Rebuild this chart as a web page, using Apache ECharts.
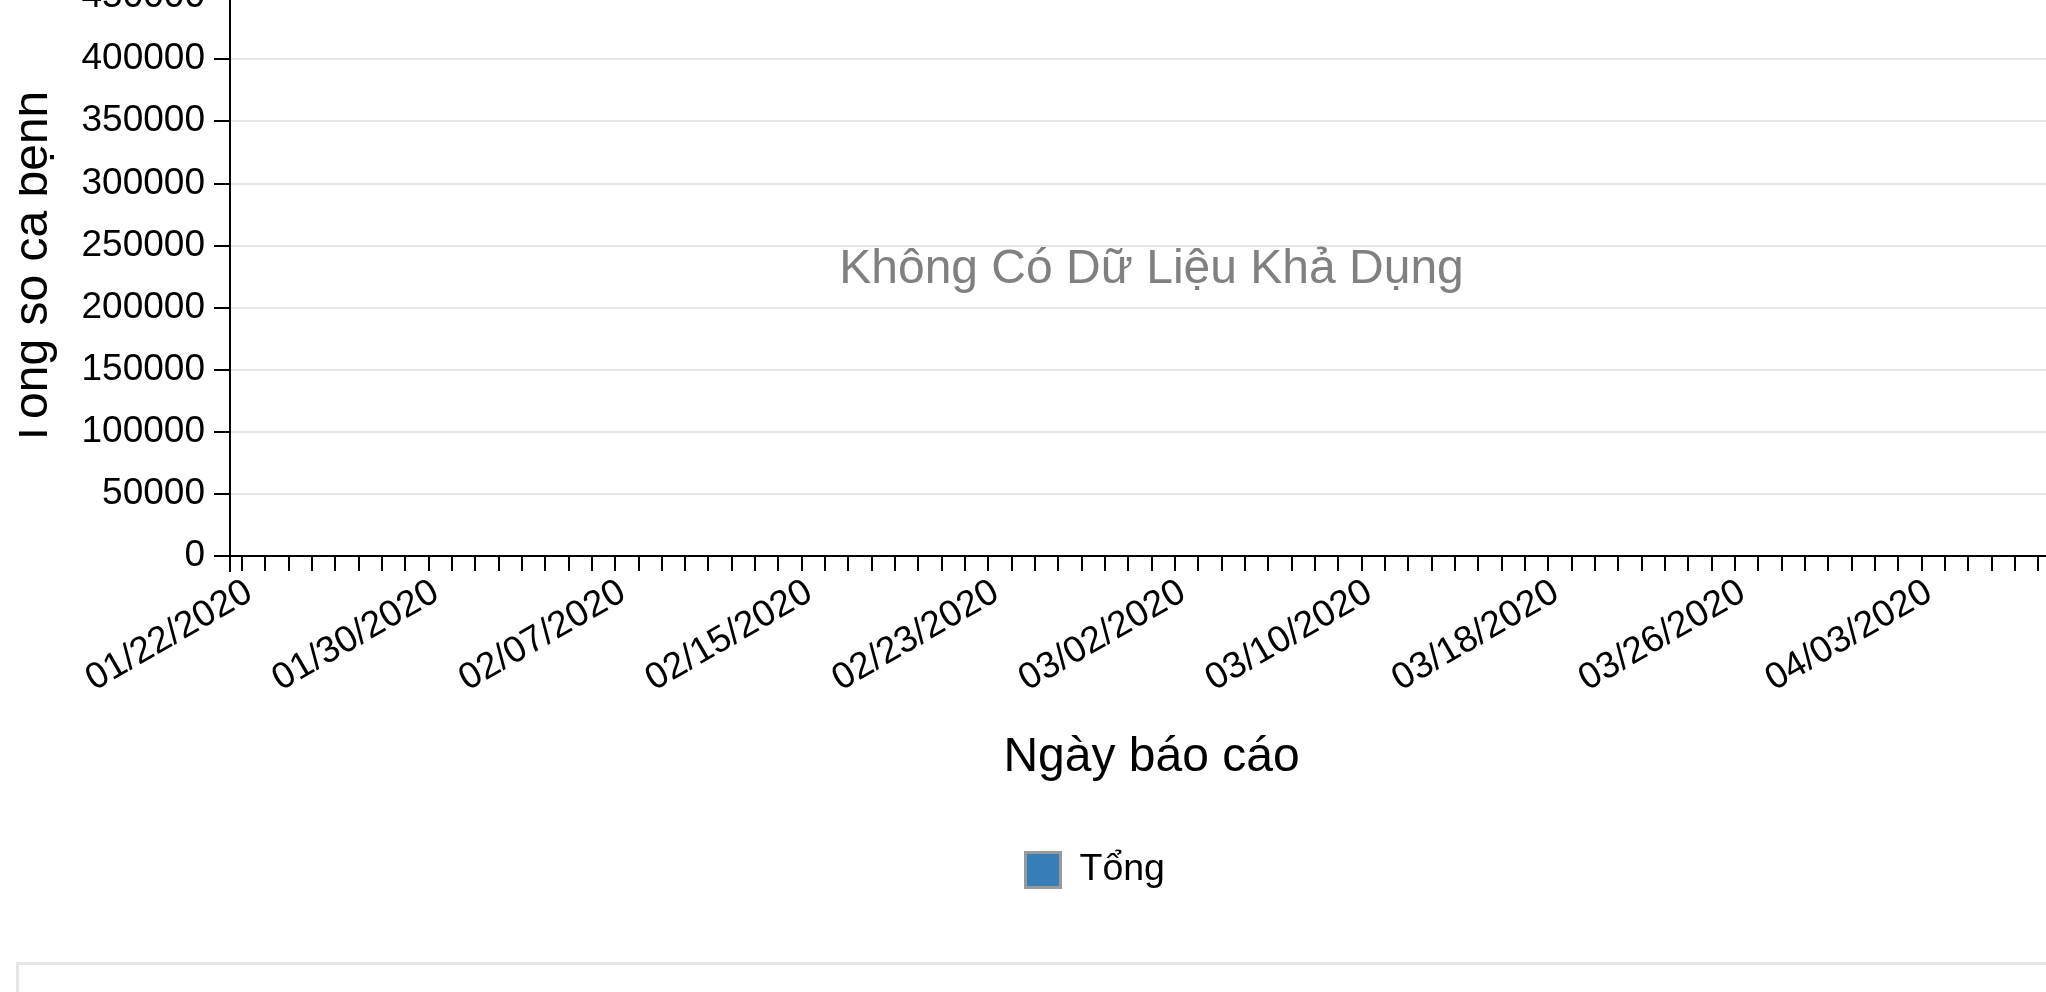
<!DOCTYPE html>
<html><head><meta charset="utf-8">
<script src="https://cdn.jsdelivr.net/npm/echarts@6/dist/echarts.min.js"></script>
<style>
html,body{margin:0;padding:0;background:#fff;width:2046px;height:992px;overflow:hidden;}
#clip{position:absolute;left:19px;top:0;width:2027px;height:992px;overflow:hidden;}
#chart{position:absolute;left:-19px;top:0;width:2046px;height:992px;}
#panel{position:absolute;left:16px;top:962px;width:2100px;height:100px;border:3px solid #e5e5e5;box-sizing:border-box;background:#fff;}
</style></head><body>
<div id="clip"><div id="chart"></div></div>
<div id="panel"></div>
<script>
// Category axis: report dates
const reportDates = [
  '01/22/2020','01/23/2020','01/24/2020','01/25/2020','01/26/2020','01/27/2020','01/28/2020','01/29/2020','01/30/2020','01/31/2020',
  '02/01/2020','02/02/2020','02/03/2020','02/04/2020','02/05/2020','02/06/2020','02/07/2020','02/08/2020','02/09/2020','02/10/2020',
  '02/11/2020','02/12/2020','02/13/2020','02/14/2020','02/15/2020','02/16/2020','02/17/2020','02/18/2020','02/19/2020','02/20/2020',
  '02/21/2020','02/22/2020','02/23/2020','02/24/2020','02/25/2020','02/26/2020','02/27/2020','02/28/2020','02/29/2020',
  '03/01/2020','03/02/2020','03/03/2020','03/04/2020','03/05/2020','03/06/2020','03/07/2020','03/08/2020','03/09/2020','03/10/2020',
  '03/11/2020','03/12/2020','03/13/2020','03/14/2020','03/15/2020','03/16/2020','03/17/2020','03/18/2020','03/19/2020','03/20/2020',
  '03/21/2020','03/22/2020','03/23/2020','03/24/2020','03/25/2020','03/26/2020','03/27/2020','03/28/2020','03/29/2020','03/30/2020',
  '03/31/2020','04/01/2020','04/02/2020','04/03/2020','04/04/2020','04/05/2020','04/06/2020','04/07/2020','04/08/2020','04/09/2020'
];
// Series values: no data available
const totalCases = [];
// Value axis ticks
const yMin = 0;
const yMax = 450000;
const yStep = 50000;

const seriesName = 'Tổng';
const xTitle = 'Ngày báo cáo';
const yTitle = 'Tổng số ca bệnh';
const noDataText = 'Không Có Dữ Liệu Khả Dụng';

const FONT = '"Liberation Sans", Arial, Helvetica, sans-serif';
const GRID = {left: 230, top: -3, width: 1843, height: 559};

const chart = echarts.init(document.getElementById('chart'), null, {renderer: 'canvas'});
chart.setOption({
  animation: false,
  backgroundColor: '#fff',
  textStyle: {fontFamily: FONT},
  grid: {left: GRID.left, top: GRID.top, width: GRID.width, height: GRID.height, containLabel: false, outerBoundsMode: 'none'},
  legend: {
    data: [{name: seriesName, icon: 'rect'}],
    left: 1024, top: 851, padding: 0,
    itemWidth: 35, itemHeight: 35,
    itemStyle: {borderColor: '#999', borderWidth: 3},
    textStyle: {fontSize: 37.5, color: '#000', fontFamily: FONT, padding: [0, 0, 0, 14]}
  },
  xAxis: {
    type: 'category', data: reportDates, boundaryGap: true,
    name: xTitle, nameLocation: 'middle', nameGap: 178, nameMoveOverlap: false,
    nameTextStyle: {fontSize: 48, color: '#000', fontFamily: FONT},
    axisLine: {show: true, lineStyle: {color: '#000', width: 2}},
    axisTick: {show: true, alignWithLabel: true, interval: 0, length: 15, lineStyle: {color: '#000', width: 2}},
    axisLabel: {interval: 7, rotate: 30, fontSize: 37, color: '#000', fontFamily: FONT, margin: 38, padding: [0, -9, 0, 0]},
    splitLine: {show: false}
  },
  yAxis: {
    type: 'value', min: yMin, max: yMax, interval: yStep,
    name: yTitle, nameLocation: 'middle', nameGap: 172, nameMoveOverlap: false,
    nameTextStyle: {fontSize: 48, color: '#000', fontFamily: FONT, padding: [0, 0, 0, 14]},
    axisLine: {show: true, lineStyle: {color: '#000', width: 2}},
    axisTick: {show: true, length: 16, lineStyle: {color: '#000', width: 2}},
    axisLabel: {fontSize: 37, color: '#000', fontFamily: FONT, margin: 25, formatter: function (v) { return String(v); }},
    splitLine: {show: true, lineStyle: {color: '#e6e6e6', width: 2}}
  },
  series: [{name: seriesName, type: 'bar', data: totalCases, itemStyle: {color: '#377eb8'}}],
  graphic: [
    {type: 'text', x: GRID.left + GRID.width / 2, y: 270, z: 100,
     style: {text: noDataText, fontSize: 48, fontFamily: FONT, fill: '#808080', align: 'center', verticalAlign: 'middle'}},
    {type: 'line', shape: {x1: GRID.left, y1: GRID.top + GRID.height, x2: GRID.left, y2: GRID.top + GRID.height + 16},
     style: {stroke: '#000', lineWidth: 2}}
  ]
});
</script>
</body></html>
